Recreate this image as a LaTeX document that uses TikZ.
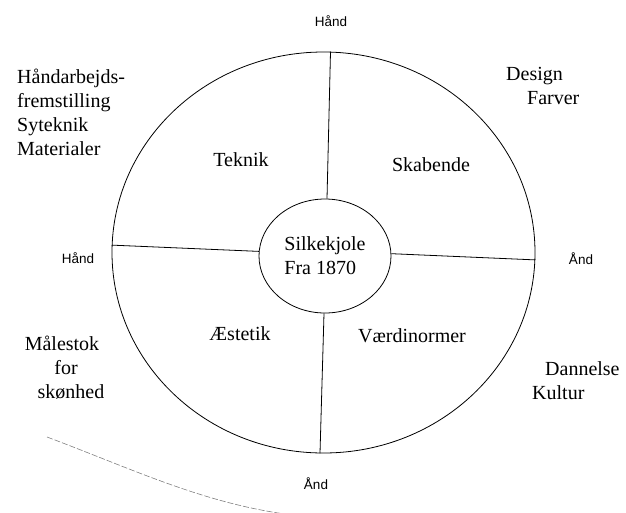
\documentclass[tikz,border=0pt]{standalone}
\usepackage{fontspec}
\setmainfont{Liberation Serif}
\setsansfont{Liberation Sans}
\usetikzlibrary{shapes.geometric}

\begin{document}
\begin{tikzpicture}[
  x=1pt, y=-1pt,
  font=\fontsize{20}{24}\selectfont,
  ring/.style={draw, ellipse, inner sep=0pt, line width=0.8pt},
  spoke/.style={line width=0.8pt},
  pole/.style={font=\sffamily\fontsize{13.5}{15}\selectfont},
  note/.style={align=left, inner sep=0pt},
  scan/.style={gray, line width=0.6pt, dash pattern=on 6pt off 2pt}
]
  \useasboundingbox (0,0) rectangle (626,512);

  % outer ring and centre
  \node[ring, minimum width=423pt, minimum height=401pt] (rim) at (323.5,252.5) {};
  \node[ring, minimum width=132pt, minimum height=114pt, align=left] (hub) at (325,256) {Silkekjole\\Fra 1870};

  % spokes
  \draw[spoke] (hub.88) -- (rim.88);
  \draw[spoke] (hub.176) -- (rim.178.5);
  \draw[spoke] (hub.2) -- (rim.358.8);
  \draw[spoke] (hub.269) -- (rim.269.3);

  % quadrants
  \node (teknik) at (241,160) {Teknik};
  \node (skabende) at (431,165) {Skabende};
  \node (aestetik) at (240,334) {Æstetik};
  \node (vaerdi) at (412,336) {Værdinormer};

  % poles
  \node[pole] (haandTop) at (331,21) {Hånd};
  \node[pole] (haandLeft) at (78,258) {Hånd};
  \node[pole] (aandRight) at (581,259) {Ånd};
  \node[pole] (aandBottom) at (316,484) {Ånd};

  % outer notes
  \node[note, anchor=north west] (craft) at (17,69) {Håndarbejds-\\fremstilling\\Syteknik\\Materialer};
  \node[note, anchor=north west] (design) at (506,67) {Design\\\hspace*{21pt}Farver};
  \node[align=center, inner sep=0pt] (measure) at (62,368) {Målestok\\\hspace*{8pt}for\\\hspace*{18pt}skønhed};
  \node[note, anchor=north west] (culture) at (532,361) {\hspace*{13pt}Dannelse\\Kultur};

  % faint stroke in the lower left
  \coordinate (scanA) at (47,437);
  \coordinate (scanB) at (285,514);
  \draw[scan] (scanA) .. controls (130,468) and (200,502) .. (scanB);
\end{tikzpicture}
\end{document}
